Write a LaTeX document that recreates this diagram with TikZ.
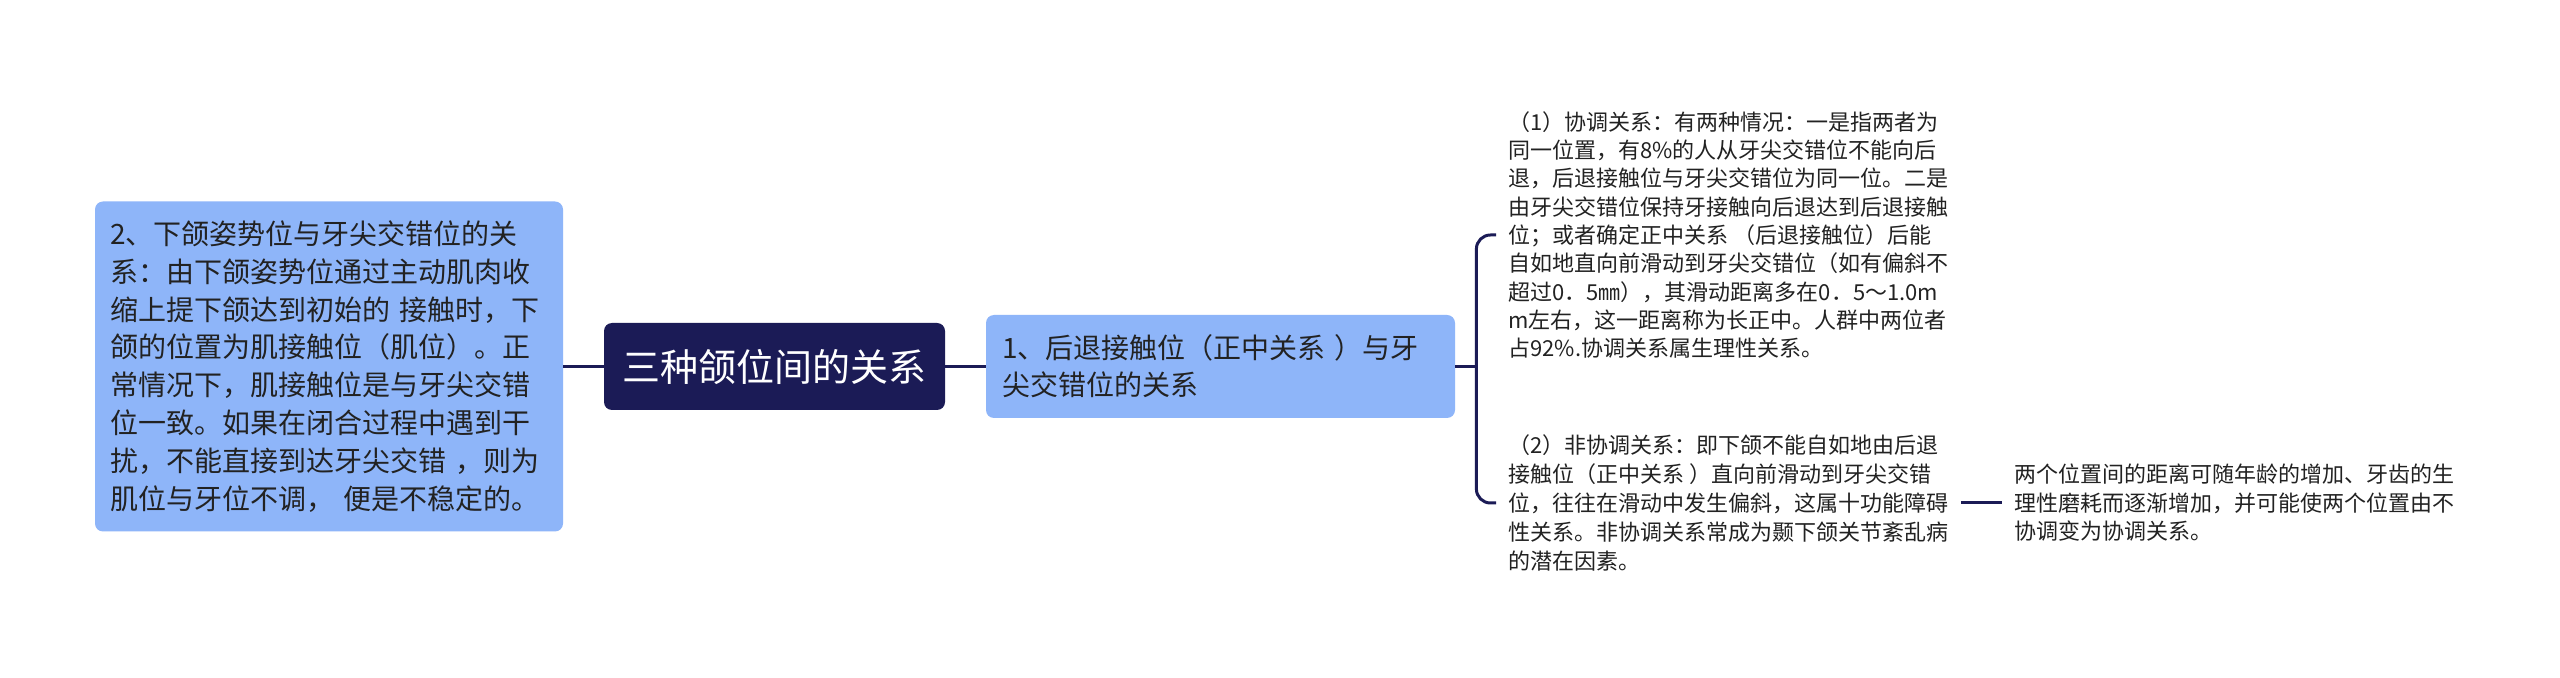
\documentclass[tikz,border=0pt]{standalone}
\usepackage{fontspec}
\setmainfont{Noto Sans CJK SC}
\definecolor{boxblue}{RGB}{142,181,249}
\definecolor{navy}{RGB}{27,27,86}
\definecolor{ink}{RGB}{34,34,34}
\tikzset{
  lightbox/.style={rounded corners=4pt, fill=boxblue, align=left, text=ink, inner ysep=0pt},
  rootbox/.style={rounded corners=4pt, fill=navy, text=white, font=\fontsize{19pt}{23pt}\selectfont},
  plain/.style={align=left, text=ink, inner xsep=6pt, inner ysep=0pt},
  conn/.style={draw=navy, line width=1.5pt}
}
\begin{document}
\begin{tikzpicture}[x=0.5pt,y=-0.5pt]
\useasboundingbox (0,0) rectangle (2560,678);
\fill[white] (0,0) rectangle (2560,678);

\node[lightbox, minimum width=234pt, minimum height=165pt, text width=219pt, inner xsep=7.5pt,
      font=\fontsize{14pt}{18.95pt}\selectfont] (left) at (329,366.5)
 {2、下颌姿势位与牙尖交错位的关\\
  系：由下颌姿势位通过主动肌肉收\\
  缩上提下颌达到初始的 接触时，下\\
  颌的位置为肌接触位（肌位）。正\\
  常情况下，肌接触位是与牙尖交错\\
  位一致。如果在闭合过程中遇到干\\
  扰，不能直接到达牙尖交错 ，则为\\
  肌位与牙位不调， 便是不稳定的。};

\node[rootbox, minimum width=170.5pt, minimum height=43.5pt] (root) at (774.5,366.5) {三种颌位间的关系};

\node[lightbox, minimum width=234.5pt, minimum height=51.5pt, text width=218.5pt, inner xsep=8pt,
      font=\fontsize{14pt}{18.5pt}\selectfont] (n1) at (1220.5,366.5)
 {1、后退接触位（正中关系 ）与牙\\尖交错位的关系};

\node[plain, anchor=west, font=\fontsize{11pt}{14.15pt}\selectfont] (t1) at (1496,235)
 {（1）协调关系：有两种情况：一是指两者为\\
  同一位置，有8\%的人从牙尖交错位不能向后\\
  退，后退接触位与牙尖交错位为同一位。二是\\
  由牙尖交错位保持牙接触向后退达到后退接触\\
  位；或者确定正中关系 （后退接触位）后能\\
  自如地直向前滑动到牙尖交错位（如有偏斜不\\
  超过0．5㎜），其滑动距离多在0．5～1.0m\\
  m左右，这一距离称为长正中。人群中两位者\\
  占92\%.协调关系属生理性关系。};

\node[plain, anchor=west, font=\fontsize{11pt}{14.5pt}\selectfont] (t2) at (1496,503)
 {（2）非协调关系：即下颌不能自如地由后退\\
  接触位（正中关系 ）直向前滑动到牙尖交错\\
  位，往往在滑动中发生偏斜，这属十功能障碍\\
  性关系。非协调关系常成为颞下颌关节紊乱病\\
  的潜在因素。};

\node[plain, anchor=west, font=\fontsize{11pt}{14.25pt}\selectfont] (t3) at (2002,503)
 {两个位置间的距离可随年龄的增加、牙齿的生\\
  理性磨耗而逐渐增加，并可能使两个位置由不\\
  协调变为协调关系。};

\draw[conn] (left.east) -- (root.west);
\draw[conn] (root.east) -- (n1.west);
\draw[conn] (n1.east) -- ++(21,0) coordinate (fork);
\draw[conn, rounded corners=7pt] (t1.west) -| (fork) |- (t2.west);
\draw[conn] (t2.east) -- (t3.west);
\end{tikzpicture}
\end{document}
